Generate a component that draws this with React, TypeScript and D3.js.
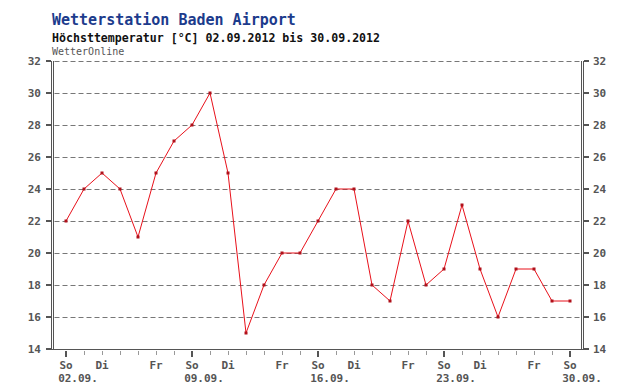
import React from "react";
import * as d3 from "d3";

const days = [2,3,4,5,6,7,8,9,10,11,12,13,14,15,16,17,18,19,20,21,22,23,24,25,26,27,28,29,30];
const temps = [22,24,25,24,21,25,27,28,30,25,15,18,20,20,22,24,24,18,17,22,18,19,23,19,16,19,19,17,17];
const yTicks = [14,16,18,20,22,24,26,28,30,32];
const weekdayLabels = [
  { day: 2, label: "So" }, { day: 4, label: "Di" }, { day: 7, label: "Fr" },
  { day: 9, label: "So" }, { day: 11, label: "Di" }, { day: 14, label: "Fr" },
  { day: 16, label: "So" }, { day: 18, label: "Di" }, { day: 21, label: "Fr" },
  { day: 23, label: "So" }, { day: 25, label: "Di" }, { day: 28, label: "Fr" },
  { day: 30, label: "So" },
];
const dateLabels = [
  { day: 2, label: "02.09." }, { day: 9, label: "09.09." }, { day: 16, label: "16.09." },
  { day: 23, label: "23.09." }, { day: 30, label: "30.09." },
];
const sundays = [2, 9, 16, 23, 30];

export default function App() {
  const W = 640, H = 390;
  const left = 51.5, right = 583.5, top = 61, bottom = 349.5;
  const x = d3.scaleLinear().domain([2, 30]).range([66, 570]);
  const y = d3.scaleLinear().domain([14, 32]).range([349, 61]);
  const line = d3.line<number>().x((_, i) => x(days[i])).y((d) => y(d));
  const mono = "'DejaVu Sans Mono', 'Liberation Mono', monospace";
  const axisColor = "#555";
  return (
    <svg width={W} height={H} style={{ position: "absolute", left: 0, top: 0, background: "#fff" }}>
      <text x={52} y={25} fontFamily={mono} fontSize={15} fontWeight="bold" fill="#1c3b8c">Wetterstation Baden Airport</text>
      <text x={52} y={42} fontFamily={mono} fontSize={11.6} fontWeight="bold" fill="#111">Höchsttemperatur [°C] 02.09.2012 bis 30.09.2012</text>
      <text x={52} y={55} fontFamily={mono} fontSize={10} fill="#555">WetterOnline</text>

      {yTicks.filter((t) => t > 14).map((t) => (
        <line key={"g" + t} x1={left + 3} x2={right - 3} y1={y(t) + 0.5} y2={y(t) + 0.5} stroke="#777" strokeDasharray="5,3" strokeWidth={1} />
      ))}

      {/* axes */}
      <line x1={left} x2={left} y1={top} y2={bottom + 0.5} stroke={axisColor} strokeWidth={1} />
      <line x1={left + 2} x2={left + 2} y1={top} y2={bottom} stroke={axisColor} strokeWidth={1} />
      <line x1={right} x2={right} y1={top} y2={bottom + 0.5} stroke={axisColor} strokeWidth={1} />
      <line x1={right - 2} x2={right - 2} y1={top} y2={bottom} stroke={axisColor} strokeWidth={1} />
      <line x1={left} x2={right} y1={bottom} y2={bottom} stroke={axisColor} strokeWidth={1} />

      {yTicks.map((t) => (
        <g key={"y" + t}>
          <rect x={46} y={y(t) - 1} width={5} height={2} fill="#555" />
          <rect x={584} y={y(t) - 1} width={5} height={2} fill="#555" />
          <text x={41} y={y(t) + 4} textAnchor="end" fontFamily={mono} fontSize={11} fontWeight="bold" fill="#555">{t}</text>
          <text x={593} y={y(t) + 4} textAnchor="start" fontFamily={mono} fontSize={11} fontWeight="bold" fill="#555">{t}</text>
        </g>
      ))}

      {d3.range(2, 31).map((d) => {
        const major = sundays.includes(d);
        return (
          <rect key={"xt" + d} x={Math.round(x(d)) - (major ? 1 : 0)} y={351} width={major ? 2 : 1} height={major ? 6 : 4} fill={major ? "#555" : "#999"} />
        );
      })}

      {weekdayLabels.map((l, i) => (
        <text key={"w" + i} x={x(l.day)} y={369} textAnchor="middle" fontFamily={mono} fontSize={11} fontWeight="bold" fill="#555">{l.label}</text>
      ))}
      {dateLabels.map((l, i) => (
        <text key={"d" + i} x={x(l.day) + 12} y={382} textAnchor="middle" fontFamily={mono} fontSize={11} fontWeight="bold" fill="#555">{l.label}</text>
      ))}

      <path d={line(temps) || ""} fill="none" stroke="#e8101a" strokeWidth={1} />
      {temps.map((t, i) => (
        <rect key={"p" + i} x={x(days[i]) - 1.5} y={y(t) - 1.5} width={3} height={3} fill="#b0101a" />
      ))}
    </svg>
  );
}
